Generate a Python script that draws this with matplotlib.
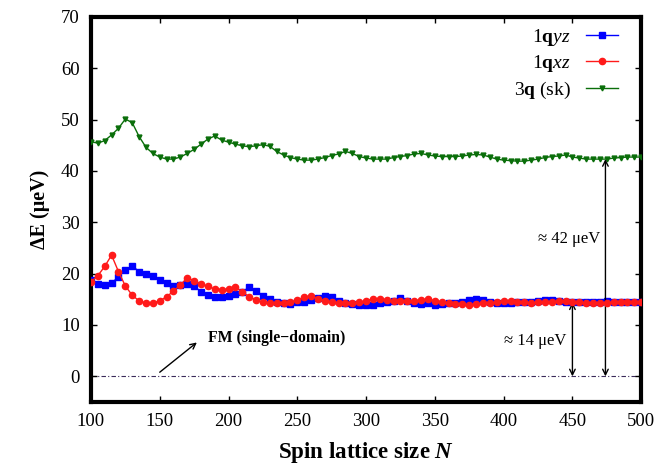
import numpy as np
import matplotlib
matplotlib.use('Agg')
import matplotlib.pyplot as plt

plt.rcParams['font.family'] = ['Liberation Serif', 'DejaVu Serif']
plt.rcParams['mathtext.fontset'] = 'custom'
plt.rcParams['mathtext.rm'] = 'Liberation Serif'
plt.rcParams['mathtext.it'] = 'Liberation Serif:italic'
plt.rcParams['mathtext.bf'] = 'Liberation Serif:bold'
plt.rcParams['mathtext.bfit'] = 'Liberation Serif:bold:italic'

# lattice sizes N = 100, 105, ..., 500
N = np.arange(100, 501, 5)

# 1q yz
e_yz = [18.8, 17.9, 17.7, 18.2, 19.3, 20.7, 21.5, 20.4, 19.9, 19.6,
        18.8, 18.1, 17.6, 17.8, 17.9, 17.5, 16.5, 15.8, 15.5, 15.5,
        15.6, 16.0, 16.5, 17.3, 16.7, 15.7, 15.1, 14.5, 14.3, 14.1,
        14.4, 14.5, 14.9, 15.2, 15.7, 15.4, 14.7, 14.3, 14.1, 13.9,
        13.9, 13.9, 14.2, 14.5, 14.7, 15.2, 14.7, 14.3, 14.1, 14.2,
        13.9, 14.0, 14.2, 14.2, 14.4, 14.9, 15.1, 14.9, 14.4, 14.3,
        14.2, 14.3, 14.4, 14.4, 14.4, 14.7, 14.9, 14.9, 14.7, 14.5,
        14.5, 14.5, 14.5, 14.5, 14.5, 14.7, 14.5, 14.5, 14.5, 14.5,
        14.5]

# 1q xz
e_xz = [18.4, 19.6, 21.4, 23.6, 20.4, 17.6, 15.8, 14.7, 14.3, 14.3,
        14.7, 15.5, 16.6, 17.8, 19.2, 18.6, 18.0, 17.5, 17.0, 16.9,
        17.0, 17.3, 16.5, 15.5, 14.9, 14.4, 14.2, 14.2, 14.3, 14.4,
        14.9, 15.4, 15.7, 15.1, 14.7, 14.4, 14.2, 14.2, 14.2, 14.4,
        14.7, 15.1, 15.1, 14.9, 14.7, 14.7, 14.7, 14.7, 14.9, 15.1,
        14.7, 14.5, 14.3, 14.1, 14.1, 13.9, 14.0, 14.2, 14.3, 14.4,
        14.7, 14.7, 14.5, 14.4, 14.3, 14.4, 14.5, 14.5, 14.7, 14.7,
        14.5, 14.4, 14.3, 14.3, 14.3, 14.3, 14.4, 14.4, 14.5, 14.4,
        14.4]

# 3q (sk)
e_sk = [45.7, 45.4, 45.9, 47.0, 48.3, 50.1, 49.4, 46.7, 44.6, 43.4,
        42.7, 42.3, 42.3, 42.7, 43.4, 44.2, 45.2, 46.2, 46.8, 46.0,
        45.6, 45.2, 44.9, 44.7, 44.9, 45.1, 44.8, 43.8, 43.1, 42.6,
        42.3, 42.1, 42.1, 42.3, 42.6, 43.0, 43.3, 43.8, 43.4, 42.8,
        42.5, 42.3, 42.3, 42.3, 42.6, 42.8, 43.0, 43.3, 43.4, 43.1,
        42.9, 42.8, 42.8, 42.8, 42.9, 43.1, 43.2, 43.1, 42.7, 42.3,
        42.1, 42.0, 41.9, 41.9, 42.1, 42.3, 42.6, 42.8, 42.9, 43.1,
        42.7, 42.5, 42.3, 42.3, 42.3, 42.3, 42.5, 42.6, 42.7, 42.7,
        42.7]

fig = plt.figure(figsize=(6.59, 4.68), dpi=100)
ax = fig.add_axes([0.138, 0.141, 0.835, 0.823])

ax.axhline(0, color='#3a2a5a', lw=0.8, ls=(0, (4, 2, 1, 2)), zorder=1)

ax.plot(N, e_yz, color='#0000ff', marker='s', ms=4.5, lw=1.0, label=r'1$\mathbf{q}\mathit{yz}$', zorder=3)
ax.plot(N, e_xz, color='#ff1a1a', marker='o', ms=4.5, lw=1.0, label=r'1$\mathbf{q}\mathit{xz}$', zorder=4)
ax.plot(N, e_sk, color='#0a6e0a', marker='v', ms=3.5, lw=1.0, label=r'3$\mathbf{q}$ (sk)', zorder=3)

# energy gap arrows
ax.annotate('', xy=(474, 42.3), xytext=(474, 0),
            arrowprops=dict(arrowstyle='<->', color='black', lw=1.0, shrinkA=0, shrinkB=0))
ax.annotate('', xy=(450, 14.4), xytext=(450, 0),
            arrowprops=dict(arrowstyle='<->', color='black', lw=1.0, shrinkA=0, shrinkB=0))
ax.text(470, 26.8, '≈ 42 μeV', fontsize=12, ha='right', va='center')
ax.text(445.5, 6.9, '≈ 14 μeV', fontsize=12, ha='right', va='center')

ax.annotate('', xy=(177, 6.6), xytext=(150, 0.8),
            arrowprops=dict(arrowstyle='->', color='black', lw=1.0, shrinkA=0, shrinkB=0))
ax.text(185, 7.5, 'FM (single−domain)', fontsize=11.3, fontweight='bold', va='center')

ax.set_xlim(100, 500)
ax.set_ylim(-5, 70)
ax.set_xticks(np.arange(100, 501, 50))
ax.set_yticks(np.arange(0, 71, 10))
ax.tick_params(direction='in', top=True, right=True, labelsize=13.5, length=4, width=1, pad=8)
for s in ax.spines.values():
    s.set_linewidth(3)

ax.set_xlabel(r'Spin lattice size $\mathbfit{N}$', fontsize=16.5, fontweight='bold', labelpad=7)
ax.set_ylabel('ΔE (μeV)', fontsize=14.5, fontweight='bold', labelpad=8)

ax.legend(loc='upper right', bbox_to_anchor=(0.99, 1.02), frameon=False, markerfirst=False,
          fontsize=14, handlelength=1.65, labelspacing=0.28, handletextpad=0.8)

fig.savefig('out.png', dpi=100)
